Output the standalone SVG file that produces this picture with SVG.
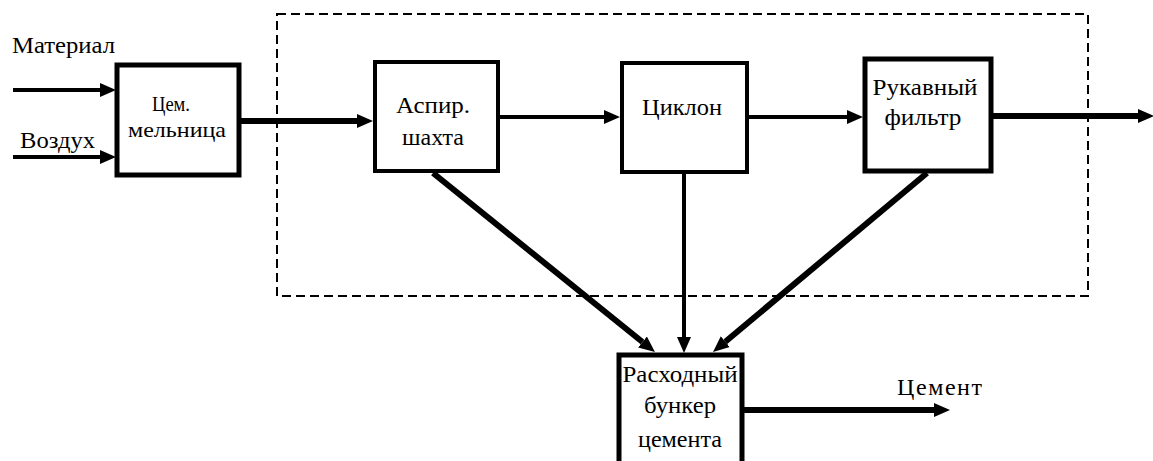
<svg xmlns="http://www.w3.org/2000/svg" width="1153" height="461" viewBox="0 0 1153 461">
  <style>
    .box { fill: #fff; stroke: #000; stroke-width: 5; }
    .mid { text-anchor: middle; }
    .flow { stroke: #000; fill: none; }
    .thin { stroke-width: 4; }
    .thick { stroke-width: 6; }
    .frame { fill: none; stroke: #000; stroke-width: 2; stroke-dasharray: 9 5; }
  </style>
  <defs>
    <marker id="head" markerUnits="userSpaceOnUse" markerWidth="18" markerHeight="16" viewBox="0 -8 18 16" refX="0" refY="0" orient="auto">
      <path d="M0,-7 L16,0 L0,7 z" fill="#000"/>
    </marker>
  </defs>

  <rect fill="#fff" width="1153" height="461"/>

  <!-- dashed enclosure of the dust-collection stage -->
  <rect id="stage" class="frame" x="277" y="14" width="811" height="282"/>

  <g id="connectors">
    <line class="flow thin" x1="13" y1="90" x2="100" y2="90" marker-end="url(#head)"/>
    <line class="flow thin" x1="13" y1="157" x2="100" y2="157" marker-end="url(#head)"/>
    <line class="flow thick" x1="239" y1="121" x2="357" y2="121" marker-end="url(#head)"/>
    <line class="flow thin" x1="499" y1="117" x2="604" y2="117" marker-end="url(#head)"/>
    <line class="flow thin" x1="748" y1="117" x2="847" y2="117" marker-end="url(#head)"/>
    <line class="flow thick" x1="992" y1="116" x2="1138" y2="116" marker-end="url(#head)"/>
    <line class="flow thick" x1="433" y1="173" x2="642.5" y2="342" marker-end="url(#head)"/>
    <line class="flow thin" x1="684" y1="173" x2="684" y2="337" marker-end="url(#head)"/>
    <line class="flow thick" x1="927" y1="173" x2="725.3" y2="341.7" marker-end="url(#head)"/>
    <line class="flow thick" x1="743" y1="410" x2="934" y2="410" marker-end="url(#head)"/>
  </g>

  <g font-family="Liberation Serif, DejaVu Serif, serif" font-size="24" fill="#000">
    <g id="label-material">
      <text x="12" y="53" textLength="103" lengthAdjust="spacingAndGlyphs">Материал</text>
    </g>
    <g id="label-air">
      <text x="20" y="148" textLength="75" lengthAdjust="spacingAndGlyphs">Воздух</text>
    </g>

    <g id="mill">
      <rect class="box" x="117" y="65" width="122" height="110"/>
      <text class="mid" x="171" y="111" font-size="22" textLength="38" lengthAdjust="spacingAndGlyphs">Цем.</text>
      <text class="mid" x="177" y="137" font-size="22" textLength="98" lengthAdjust="spacingAndGlyphs">мельница</text>
    </g>

    <g id="aspiration">
      <rect class="box" x="375" y="62" width="123" height="109" style="stroke-width:4"/>
      <text class="mid" x="433" y="113" textLength="74" lengthAdjust="spacingAndGlyphs">Аспир.</text>
      <text class="mid" x="433" y="145" textLength="62" lengthAdjust="spacingAndGlyphs">шахта</text>
    </g>

    <g id="cyclone">
      <rect class="box" x="622" y="63" width="125" height="109" style="stroke-width:4"/>
      <text class="mid" x="682" y="115" textLength="80" lengthAdjust="spacingAndGlyphs">Циклон</text>
    </g>

    <g id="bag-filter">
      <rect class="box" x="865" y="59" width="126" height="112"/>
      <text class="mid" x="925" y="95" textLength="105" lengthAdjust="spacingAndGlyphs">Рукавный</text>
      <text class="mid" x="923" y="125" textLength="77" lengthAdjust="spacingAndGlyphs">фильтр</text>
    </g>

    <g id="bunker">
      <rect class="box" x="619" y="355" width="123" height="115"/>
      <text class="mid" x="680" y="382" textLength="115" lengthAdjust="spacingAndGlyphs">Расходный</text>
      <text class="mid" x="680" y="413" textLength="72" lengthAdjust="spacingAndGlyphs">бункер</text>
      <text class="mid" x="680" y="447" textLength="84" lengthAdjust="spacingAndGlyphs">цемента</text>
    </g>

    <g id="label-cement">
      <text x="897" y="395" textLength="85" lengthAdjust="spacing">Цемент</text>
    </g>
  </g>
</svg>
